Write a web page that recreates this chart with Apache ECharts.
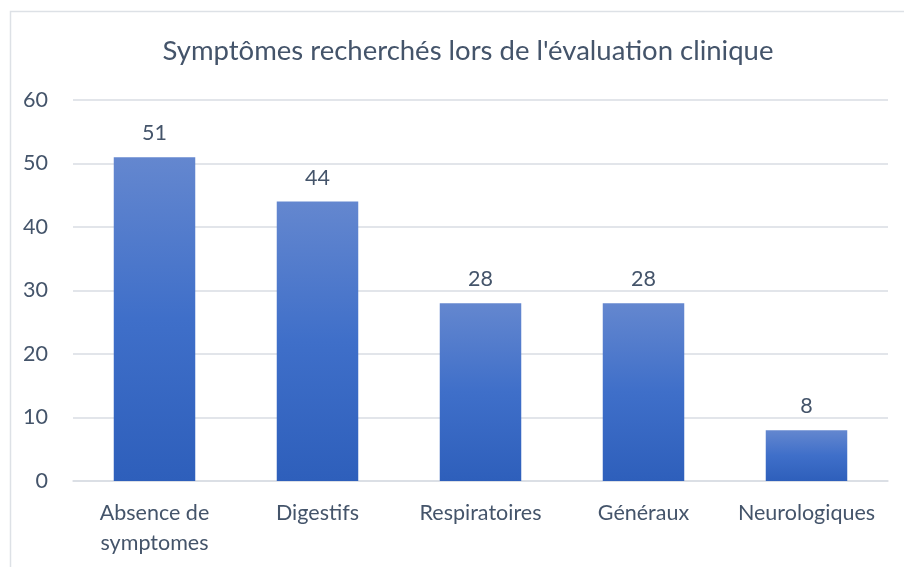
<!DOCTYPE html>
<html>
<head>
<meta charset="utf-8">
<script src="https://cdn.jsdelivr.net/npm/echarts@6/dist/echarts.min.js"></script>
<style>
  html, body { margin: 0; padding: 0; background: #fff; }
  #chart { width: 904px; height: 567px; }
</style>
</head>
<body>
<div id="chart"></div>
<script>
// data
var categories = ['Absence de\nsymptomes', 'Digestifs', 'Respiratoires', 'Généraux', 'Neurologiques'];
var values = [51, 44, 28, 28, 8];
var yTicks = [0, 10, 20, 30, 40, 50, 60];

var textColor = '#44546a';
var font = 'Lato, "Open Sans", sans-serif';

var chart = echarts.init(document.getElementById('chart'));

var option = {
  animation: false,
  backgroundColor: '#fff',
  title: {
    text: "Symptômes recherchés lors de l'évaluation clinique",
    left: 463,
    top: 32,
    textAlign: 'center',
    textStyle: { color: textColor, fontFamily: font, fontSize: 27.5, fontWeight: 'normal' }
  },
  // outer chart border (office style)
  graphic: [{
    type: 'rect',
    shape: { x: 10.5, y: 11.5, width: 1000, height: 1000 },
    style: { fill: 'none', stroke: '#dde1e6', lineWidth: 1.5 },
    silent: true
  }],
  grid: { left: 73, right: 16, top: 100, bottom: 86, containLabel: false },
  xAxis: {
    type: 'category',
    data: categories,
    axisLine: { show: true, lineStyle: { color: '#d9dde3', width: 1.5 } },
    axisTick: { show: false },
    axisLabel: { color: textColor, fontFamily: font, fontSize: 21.5, margin: 17, lineHeight: 30, interval: 0 }
  },
  yAxis: {
    type: 'value',
    min: yTicks[0],
    max: yTicks[yTicks.length - 1],
    interval: 10,
    axisLine: { show: false },
    axisTick: { show: false },
    splitLine: { lineStyle: { color: '#d9dde3', width: 1.5 } },
    axisLabel: { color: textColor, fontFamily: font, fontSize: 21.5, margin: 25 }
  },
  series: [{
    type: 'bar',
    data: values,
    barWidth: '50%',
    itemStyle: {
      color: new echarts.graphic.LinearGradient(0, 0, 0, 1, [
        { offset: 0, color: '#6487cf' },
        { offset: 0.5, color: '#3f6fc9' },
        { offset: 1, color: '#2e5fbb' }
      ])
    },
    label: {
      show: true,
      position: 'top',
      distance: 13,
      color: textColor,
      fontFamily: font,
      fontSize: 21.5
    }
  }]
};

chart.setOption(option);
</script>
</body>
</html>
